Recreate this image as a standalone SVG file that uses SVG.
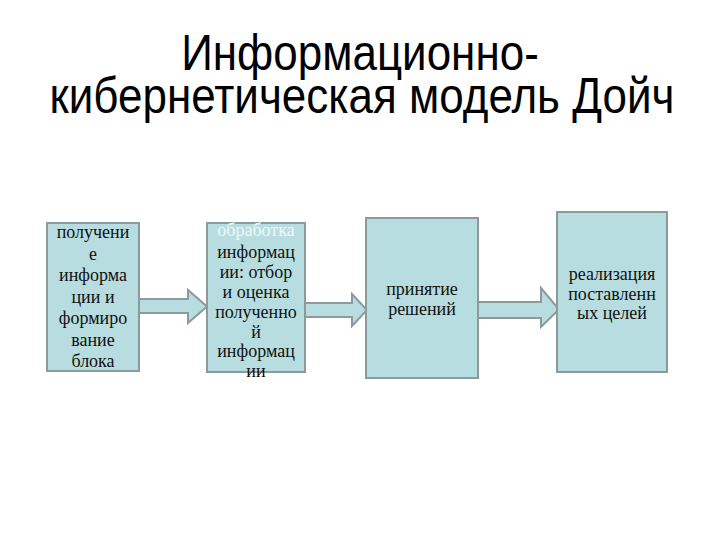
<svg xmlns="http://www.w3.org/2000/svg" width="720" height="540" viewBox="0 0 720 540">
<style>
.title{font-family:"Liberation Sans",Arial,sans-serif;font-size:44px;fill:#000;text-anchor:middle}
.box{fill:#b7dde0;stroke:#8c9a9b;stroke-width:2}
.arr{fill:#b7dde0;stroke:#8c9a9b;stroke-width:2;stroke-linejoin:miter}
.lbl{font-family:"Liberation Serif","Times New Roman",serif;font-size:18px;fill:#111;text-anchor:middle}
</style>
<rect width="720" height="540" fill="#fff"/>
<g id="title" transform="scale(1,1.12)">
<text class="title"><tspan x="360" y="62.5">Информационно-</tspan><tspan x="362" y="101">кибернетическая модель Дойч</tspan></text>
</g>
<g id="connectors">
<path class="arr" d="M139,299 H188 V290 L207,306.5 L188,323 V313 H139 Z"/>
<path class="arr" d="M305,303 H352 V294 L367,310 L352,326 V317 H305 Z"/>
<path class="arr" d="M478,302 H541 V288 L559,309.5 L541,327 V318 H478 Z"/>
</g>
<g id="node1">
<rect class="box" x="47" y="223" width="92" height="148"/>
<text class="lbl" x="93" y="238">получени</text>
<text class="lbl" x="93" y="259.5">е</text>
<text class="lbl" x="93" y="281">информа</text>
<text class="lbl" x="93" y="302.5">ции и</text>
<text class="lbl" x="93" y="324">формиро</text>
<text class="lbl" x="93" y="345.5">вание</text>
<text class="lbl" x="93" y="367">блока</text>
</g>
<g id="node2">
<rect class="box" x="207" y="223" width="98" height="149"/>
<text class="lbl" x="256" y="236" style="fill:#eef8f8">обработка</text>
<text class="lbl" x="256" y="258">информац</text>
<text class="lbl" x="256" y="278">ии: отбор</text>
<text class="lbl" x="256" y="298">и оценка</text>
<text class="lbl" x="256" y="317.5">полученно</text>
<text class="lbl" x="256" y="337.5">й</text>
<text class="lbl" x="256" y="357">информац</text>
<text class="lbl" x="256" y="377">ии</text>
</g>
<g id="node3">
<rect class="box" x="366" y="218" width="112" height="160"/>
<text class="lbl" x="422" y="295">принятие</text>
<text class="lbl" x="422" y="315">решений</text>
</g>
<g id="node4">
<rect class="box" x="557" y="212" width="110" height="160"/>
<text class="lbl" x="612" y="280">реализация</text>
<text class="lbl" x="612" y="300">поставленн</text>
<text class="lbl" x="612" y="319">ых целей</text>
</g>
</svg>
